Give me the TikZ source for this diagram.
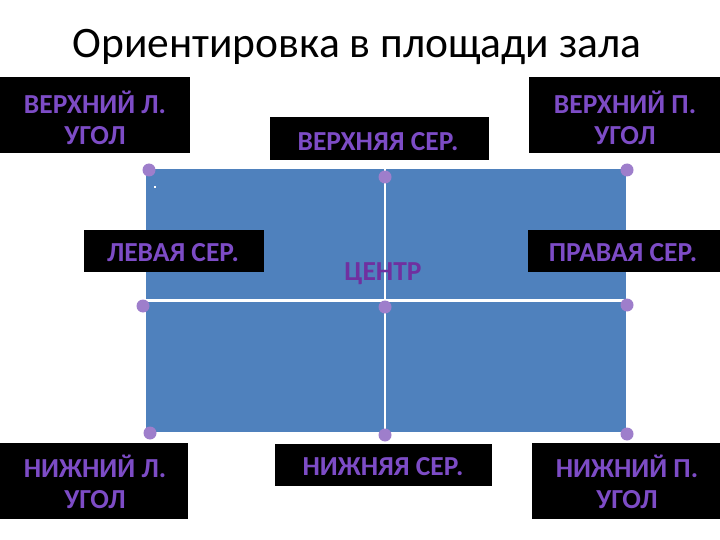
\documentclass[tikz,border=0pt]{standalone}
\usepackage{fontspec}
\setmainfont{Carlito}
\definecolor{blueR}{HTML}{4F81BD}
\definecolor{dotC}{HTML}{9E7ECB}
\definecolor{txtC}{HTML}{7D4CC6}
\definecolor{cenC}{HTML}{7030A0}
\tikzset{
  box/.style={fill=black, inner sep=0pt, anchor=center},
  two/.style={text=txtC, font=\bfseries\fontsize{27.5}{31}\selectfont, align=center, inner sep=0pt},
  one/.style={text=txtC, font=\bfseries\fontsize{27.5}{31}\selectfont, inner sep=0pt, text height=17.7pt, text depth=0pt},
  dotn/.style={circle, fill=dotC, minimum size=13pt, inner sep=0pt},
}
\begin{document}
\begin{tikzpicture}[x=1pt,y=-1pt]
\useasboundingbox (0,0) rectangle (720,540);
\node[font=\fontsize{43.5}{48}\selectfont] (title) at (357,47) {Ориентировка в площади зала};
% field
\node[fill=blueR, minimum width=480pt, minimum height=263pt, inner sep=0pt] (field) at (386,300.5) {};
\coordinate (tm) at (385,169); \coordinate (bm) at (385,432);
\coordinate (ml) at (146,300); \coordinate (mr) at (626,300);
\draw[white, line width=1.5pt] (tm) -- (bm);
\draw[white, line width=3pt] (ml) -- (mr);
\node[fill=white, minimum size=2.5pt, inner sep=0pt] (spot) at (155,187) {};
% boxes
\node[box, minimum width=190pt, minimum height=76pt] (tlb) at (95,115.5) {};
\node[box, minimum width=219pt, minimum height=43pt] (tcb) at (379.5,138.5) {};
\node[box, minimum width=191pt, minimum height=76pt] (trb) at (624.5,115) {};
\node[box, minimum width=180pt, minimum height=42pt] (lcb) at (174,251) {};
\node[box, minimum width=192pt, minimum height=42pt] (rcb) at (624,251) {};
\node[box, minimum width=188pt, minimum height=76pt] (blb) at (94,481) {};
\node[box, minimum width=217pt, minimum height=42pt] (bcb) at (383.5,465) {};
\node[box, minimum width=188pt, minimum height=76pt] (brb) at (626,481) {};
% texts
\node[two] (tl) at (95,117.5) {ВЕРХНИЙ Л.\\УГОЛ};
\node[one] (tc) at (378,142) {ВЕРХНЯЯ СЕР.};
\node[two] (tr) at (625,117.5) {ВЕРХНИЙ П.\\УГОЛ};
\node[one] (lc) at (173,253) {ЛЕВАЯ СЕР.};
\node[one, text=cenC] (cc) at (383,272) {ЦЕНТР};
\node[one] (rc) at (623,253) {ПРАВАЯ СЕР.};
\node[two] (bl) at (95,482) {НИЖНИЙ Л.\\УГОЛ};
\node[one] (bc) at (383,467) {НИЖНЯЯ СЕР.};
\node[two] (br) at (627,482) {НИЖНИЙ П.\\УГОЛ};
% dots
\node[dotn] (d1) at (149,170) {};
\node[dotn] (d2) at (385,177) {};
\node[dotn] (d3) at (627,170) {};
\node[dotn] (d4) at (143,306) {};
\node[dotn] (d5) at (385,307) {};
\node[dotn] (d6) at (627,305) {};
\node[dotn] (d7) at (150,433) {};
\node[dotn] (d8) at (385,435) {};
\node[dotn] (d9) at (627,434) {};
\end{tikzpicture}
\end{document}
